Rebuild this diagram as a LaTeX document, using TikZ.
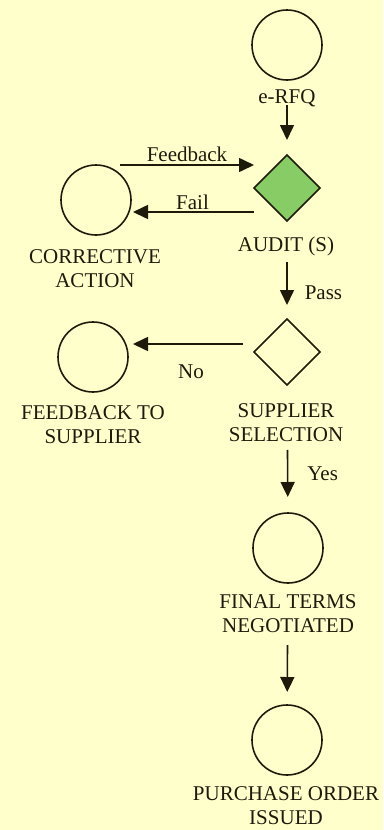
\documentclass[tikz,border=0pt]{standalone}
\usepackage{fontspec}
\setmainfont{Liberation Serif}
\usetikzlibrary{arrows.meta,shapes.geometric}
\definecolor{paper}{RGB}{255,255,204}
\definecolor{ink}{RGB}{30,26,10}
\definecolor{auditgreen}{RGB}{136,204,102}

\begin{document}
\begin{tikzpicture}[x=1pt,y=-1pt,
  every node/.style={text=ink,font=\fontsize{21}{24}\selectfont,inner sep=1pt},
  state/.style={circle,draw=ink,line width=1.6pt,minimum size=70pt,inner sep=0pt,outer sep=0pt},
  gate/.style={diamond,draw=ink,line width=1.6pt,minimum size=66pt,inner sep=0pt,outer sep=0pt},
  txt/.style={align=center,inner sep=0pt},
  arr/.style={draw=ink,line width=1.6pt,-{Triangle[length=15pt,width=14pt]}}]
  \fill[paper] (0,0) rectangle (383,830);
  \useasboundingbox (0,0) rectangle (383,830);
  % main column
  \node[state] (rfq) at (287,45) {};
  \node[txt] (rfqtxt) at (287,98) {e-RFQ};
  \node[gate,fill=auditgreen] (audit) at (287,188) {};
  \node[txt] (audittxt) at (286,246) {AUDIT (S)};
  \node[gate] (sel) at (287,352) {};
  \node[txt] (seltxt) at (286,423) {SUPPLIER\\SELECTION};
  \node[state] (fin) at (288,548) {};
  \node[txt] (fintxt) at (288,614) {FINAL TERMS\\NEGOTIATED};
  \node[state] (po) at (287,740) {};
  \node[txt] (potxt) at (286,806) {PURCHASE ORDER\\ISSUED};
  % side column
  \node[state] (corr) at (96,200) {};
  \node[txt] (corrtxt) at (95,269) {CORRECTIVE\\ACTION};
  \node[state] (fbs) at (93,357) {};
  \node[txt] (fbstxt) at (93,425) {FEEDBACK TO\\SUPPLIER};
  % flow
  \draw[arr,shorten <=25pt,shorten >=15pt] (rfq) -- (audit);
  \draw[arr] ([xshift=24pt]corr.north) -- ([yshift=23pt]audit.west)
    node[midway,above=1pt] (fbk) {Feedback};
  \draw[arr,shorten >=2pt] ([yshift=-24pt]audit.west) -- ([yshift=-12pt]corr.east)
    node[midway,above=0pt] (fail) {Fail};
  \draw[arr,shorten <=41pt,shorten >=14pt] (audit) -- (sel)
    node[pos=.73,right=16pt] (pass) {Pass};
  \draw[arr,shorten <=11pt,shorten >=5pt] ([yshift=8pt]sel.west) -- ([yshift=13pt]fbs.east)
    node[midway,below=19pt] (no) {No};
  \draw[arr,shorten <=65pt,shorten >=16pt] (sel) -- (fin)
    node[pos=.69,right=18pt] (yes) {Yes};
  \draw[arr,shorten <=62pt,shorten >=13pt] (fin) -- (po);
\end{tikzpicture}
\end{document}
